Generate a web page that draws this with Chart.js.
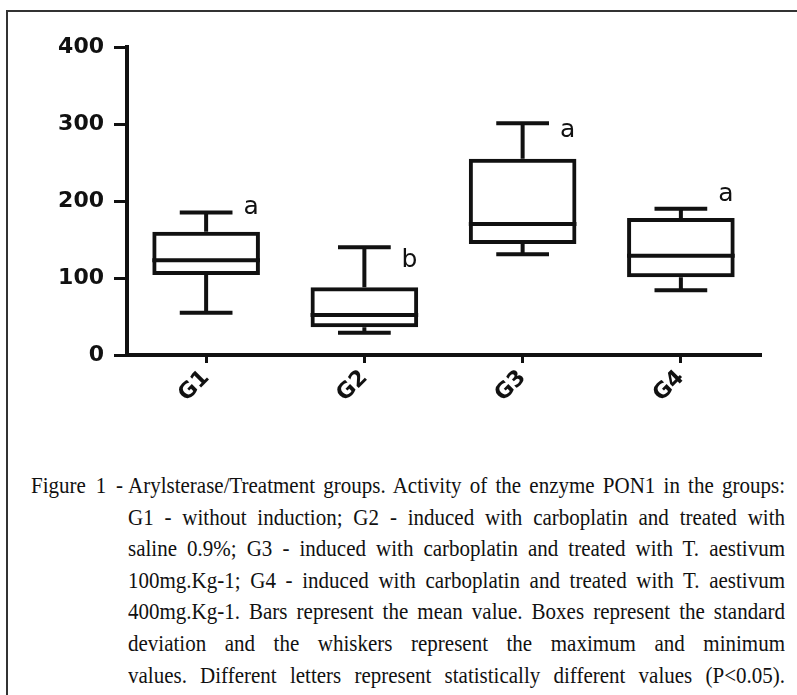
<!DOCTYPE html>
<html>
<head>
<meta charset="utf-8">
<script src="https://cdn.jsdelivr.net/npm/chart.js@4"></script>
<style>
  body { margin: 0; background: #fff; width: 797px; height: 695px; overflow: hidden; position: relative; }
  .frame { position: absolute; left: 6px; top: 10px; width: 900px; height: 800px;
           border-left: 2px solid #333; border-top: 2px solid #333; }
  #chart { position: absolute; left: 0; top: 0; }
  .fig, .caption { position: absolute; top: 470px; font: 21px "Liberation Serif", "Times New Roman", serif;
                   line-height: 31.6px; color: #111; }
  .fig { left: 31px; width: 92px; text-align: justify; text-align-last: justify; white-space: nowrap;
         transform: scaleY(1.12); transform-origin: 50% 15.8px; }
  .caption { left: 128px; width: 657px; }
  .caption div { text-align: justify; text-align-last: justify; white-space: nowrap;
                 transform: scaleY(1.12); transform-origin: 50% 50%; }
</style>
</head>
<body>
<div class="frame"></div>
<canvas id="chart" width="797" height="440"></canvas>
<div class="fig">Figure 1 -</div>
<div class="caption">
  <div>Arylsterase/Treatment groups. Activity of the enzyme PON1 in the groups:</div>
  <div>G1 - without induction; G2 - induced with carboplatin and treated with</div>
  <div>saline 0.9%; G3 - induced with carboplatin and treated with T. aestivum</div>
  <div>100mg.Kg-1; G4 - induced with carboplatin and treated with T. aestivum</div>
  <div>400mg.Kg-1. Bars represent the mean value. Boxes represent the standard</div>
  <div>deviation and the whiskers represent the maximum and minimum</div>
  <div>values. Different letters represent statistically different values (P&lt;0.05).</div>
</div>
<script>
// Data
const groups = ['G1', 'G2', 'G3', 'G4'];
const minVals = [55, 29, 131, 84];
const boxLow = [104, 36, 144, 101];
const medians = [123, 52, 170, 129];
const boxHigh = [160, 88, 255, 178];
const maxVals = [185, 140, 301, 190];
const letters = ['a', 'b', 'a', 'a'];
const letterY = [191, 123, 292, 208];
const yTicks = [0, 100, 200, 300, 400];

const ink = '#111';

// medians, whiskers and significance letters on top of the floating bars
const boxExtras = {
  id: 'boxExtras',
  afterDatasetsDraw(chart) {
    const ctx = chart.ctx;
    const y = chart.scales.y;
    const meta = chart.getDatasetMeta(0);
    ctx.save();
    ctx.strokeStyle = ink;
    ctx.lineWidth = 4;
    ctx.lineCap = 'butt';
    meta.data.forEach((bar, i) => {
      const half = bar.width / 2;
      const cap = bar.width * 0.245;
      const x = bar.x;
      ctx.beginPath();
      // median
      ctx.moveTo(x - half, y.getPixelForValue(medians[i]));
      ctx.lineTo(x + half, y.getPixelForValue(medians[i]));
      // upper whisker
      ctx.moveTo(x, y.getPixelForValue(boxHigh[i]));
      ctx.lineTo(x, y.getPixelForValue(maxVals[i]));
      ctx.moveTo(x - cap, y.getPixelForValue(maxVals[i]));
      ctx.lineTo(x + cap, y.getPixelForValue(maxVals[i]));
      // lower whisker
      ctx.moveTo(x, y.getPixelForValue(boxLow[i]));
      ctx.lineTo(x, y.getPixelForValue(minVals[i]));
      ctx.moveTo(x - cap, y.getPixelForValue(minVals[i]));
      ctx.lineTo(x + cap, y.getPixelForValue(minVals[i]));
      ctx.stroke();

      ctx.fillStyle = ink;
      ctx.font = '25px "DejaVu Sans", sans-serif';
      ctx.textAlign = 'center';
      ctx.textBaseline = 'middle';
      ctx.fillText(letters[i], x + 45, y.getPixelForValue(letterY[i]));
    });
    ctx.restore();
  }
};

new Chart(document.getElementById('chart'), {
  type: 'bar',
  data: {
    labels: groups,
    datasets: [{
      data: groups.map((g, i) => [boxLow[i], boxHigh[i]]),
      backgroundColor: 'rgba(255,255,255,0)',
      borderColor: ink,
      borderWidth: 4,
      borderSkipped: false,
      categoryPercentage: 1,
      barPercentage: 0.68
    }]
  },
  options: {
    responsive: false,
    animation: false,
    layout: { padding: { top: 47, right: 37, bottom: 0, left: 0 } },
    plugins: { legend: { display: false }, tooltip: { enabled: false } },
    scales: {
      x: {
        afterFit: (s) => { s.height = 85; },
        grid: { offset: false, drawOnChartArea: false, drawTicks: true, tickLength: 8, lineWidth: 3, color: ink },
        border: { display: true, color: ink, width: 4 },
        ticks: {
          color: ink, minRotation: 45, maxRotation: 45, padding: 2,
          font: { family: 'DejaVu Sans', size: 22, weight: 'bold' }
        }
      },
      y: {
        min: 0,
        max: 400,
        afterFit: (s) => { s.width = 127; },
        afterBuildTicks: (s) => { s.ticks = yTicks.map(v => ({ value: v })); },
        grid: { drawOnChartArea: false, drawTicks: true, tickLength: 13, lineWidth: 3, color: ink },
        border: { display: true, color: ink, width: 4 },
        ticks: {
          color: ink, padding: 10,
          font: { family: 'DejaVu Sans', size: 22, weight: 'bold' }
        }
      }
    }
  },
  plugins: [boxExtras]
});
</script>
</body>
</html>
